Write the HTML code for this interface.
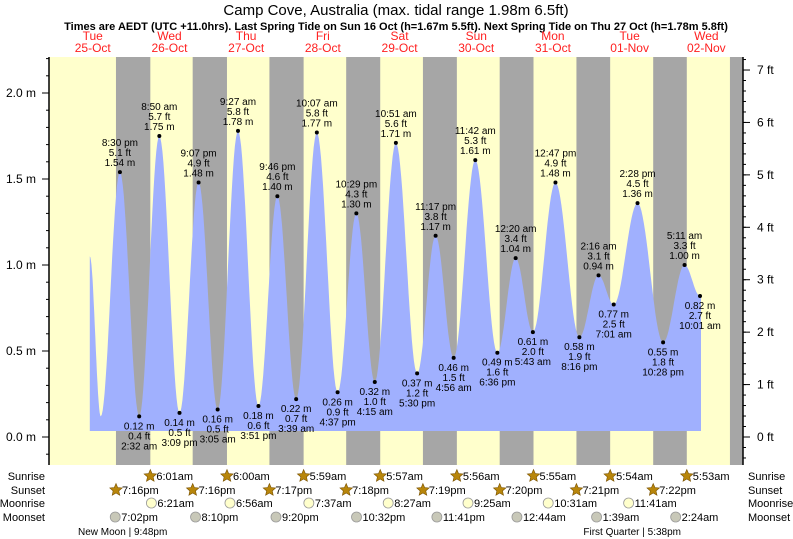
<!DOCTYPE html>
<html><head><meta charset="utf-8"><style>
body{margin:0;background:#fff;}
svg{display:block;font-family:"Liberation Sans",sans-serif;}
</style></head><body>
<svg id="c" width="793" height="539" viewBox="0 0 793 539">
<text x="396" y="15" text-anchor="middle" font-size="15" fill="#000">Camp Cove, Australia (max. tidal range 1.98m 6.5ft)</text>
<text x="396" y="30" text-anchor="middle" font-size="11" font-weight="bold" fill="#000">Times are AEDT (UTC +11.0hrs). Last Spring Tide on Sun 16 Oct (h=1.67m 5.5ft). Next Spring Tide on Thu 27 Oct (h=1.78m 5.8ft)</text>
<g id="bands"></g><g id="tide"></g><g id="axes"></g><g id="labels"></g><g id="bottom"></g>
</svg>
<script>
const dayNames=["Tue","Wed","Thu","Fri","Sat","Sun","Mon","Tue","Wed"];
const dayDates=["25-Oct","26-Oct","27-Oct","28-Oct","29-Oct","30-Oct","31-Oct","01-Nov","02-Nov"];
const tideDay=[0,1,1,1,1,2,2,2,2,3,3,3,3,4,4,4,4,5,5,5,6,6,6,6,7,7,7,7,8,8];
const tideTime=["8:30 pm","2:32 am","8:50 am","3:09 pm","9:07 pm","3:05 am","9:27 am","3:51 pm","9:46 pm","3:39 am","10:07 am","4:37 pm","10:29 pm","4:15 am","10:51 am","5:30 pm","11:17 pm","4:56 am","11:42 am","6:36 pm","12:20 am","5:43 am","12:47 pm","8:16 pm","2:16 am","7:01 am","2:28 pm","10:28 pm","5:11 am","10:01 am"];
const tideM=[1.54,0.12,1.75,0.14,1.48,0.16,1.78,0.18,1.40,0.22,1.77,0.26,1.30,0.32,1.71,0.37,1.17,0.46,1.61,0.49,1.04,0.61,1.48,0.58,0.94,0.77,1.36,0.55,1.00,0.82];
const tideFt=["5.1","0.4","5.7","0.5","4.9","0.5","5.8","0.6","4.6","0.7","5.8","0.9","4.3","1.0","5.6","1.2","3.8","1.5","5.3","1.6","3.4","2.0","4.9","1.9","3.1","2.5","4.5","1.8","3.3","2.7"];
const preTimes=["11:05 am","2:30 pm"];
const preM=[1.05,0.12];
const sunrise=["6:01am","6:00am","5:59am","5:57am","5:56am","5:55am","5:54am","5:53am"];
const sunset=["7:16pm","7:16pm","7:17pm","7:18pm","7:19pm","7:20pm","7:21pm","7:22pm","7:23pm"];
const moonrise=["6:21am","6:56am","7:37am","8:27am","9:25am","10:31am","11:41am"];
const moonset=["7:02pm","8:10pm","9:20pm","10:32pm","11:41pm","12:44am","1:39am","2:24am"];
const moonsetDay=[0,1,2,3,4,6,7,8];
const mTicks=[0,0.5,1.0,1.5,2.0];
const ftTicks=[0,1,2,3,4,5,6,7];

const NS="http://www.w3.org/2000/svg";
function el(tag,attrs,parent,txt){const e=document.createElementNS(NS,tag);for(const k in attrs)e.setAttribute(k,attrs[k]);if(txt!==undefined)e.textContent=txt;parent.appendChild(e);return e;}
function hrs(s){const m=s.replace(/\s/g,'').match(/(\d+):(\d+)(am|pm)/);let h=+m[1]%12;if(m[3]=='pm')h+=12;return h+(+m[2])/60;}
const X0=49,X1=743,Y0=57,Y1=465;
function x(day,h){return 131.1+(day-1+h/24)*76.7;}
function y(m){return 437-m*172;}
function yft(f){return 437-f*0.3048*172;}

const bands=document.getElementById('bands');
let r=el('rect',{x:X0,y:Y0,width:X1-X0,height:Y1-Y0,fill:'#ffffcc'},bands);

for(let d=0;d<sunset.length;d++){
  const xs=x(d,hrs(sunset[d]));const xe=d<sunrise.length?x(d+1,hrs(sunrise[d])):X1;
  const b=el('rect',{x:xs,y:Y0,width:Math.min(xe,X1)-xs,height:Y1-Y0,fill:'#a6a6a6'},bands);
  
}
const labels=document.getElementById('labels');
for(let d=0;d<dayNames.length;d++){
  const cx=x(d,12);
  const t1=el('text',{x:cx,y:40,'text-anchor':'middle','font-size':12,fill:'#ff2020'},labels,dayNames[d]);
  
  const t2=el('text',{x:cx,y:52,'text-anchor':'middle','font-size':12,fill:'#ff2020'},labels,dayDates[d]);
  
}
const pts=[];
for(let i=0;i<preTimes.length;i++)pts.push([x(0,hrs(preTimes[i])),preM[i]]);
for(let i=0;i<tideTime.length;i++)pts.push([x(tideDay[i],hrs(tideTime[i])),tideM[i]]);
let poly=[];
for(let i=0;i<pts.length-1;i++){
  const [xa,ha]=pts[i],[xb,hb]=pts[i+1];
  for(let s=0;s<20;s++){const f=s/20;const v=ha+(hb-ha)*(1-Math.cos(Math.PI*f))/2;poly.push([xa+(xb-xa)*f,y(v)]);}
}
poly.push([pts[pts.length-1][0],y(pts[pts.length-1][1])]);
const base=y(0.035);
let dstr='M'+poly[0][0].toFixed(1)+','+base+' '+poly.map(p=>'L'+p[0].toFixed(1)+','+p[1].toFixed(1)).join(' ')+' L'+(poly[poly.length-1][0]+1).toFixed(1)+','+poly[poly.length-1][1].toFixed(1)+' L'+(poly[poly.length-1][0]+1).toFixed(1)+','+base+'Z';
const tide=document.getElementById('tide');
const pth=el('path',{d:dstr,fill:'#a0b0fe'},tide);

for(let i=0;i<tideTime.length;i++){
  const px=x(tideDay[i],hrs(tideTime[i])),py=y(tideM[i]);
  const dot=el('circle',{cx:px,cy:py,r:2,fill:'#000'},labels);
  
  const high=(i%2==0);
  const lines=high?[tideTime[i],tideFt[i]+' ft',tideM[i].toFixed(2)+' m']:[tideM[i].toFixed(2)+' m',tideFt[i]+' ft',tideTime[i]];
  const g=el('g',{'font-size':10,fill:'#000','text-anchor':'middle'},labels);
  
  lines.forEach((t,k)=>{const yy=high?py-26+k*10:py+13+k*10;el('text',{x:px,y:yy},g,t);});
}
const axes=document.getElementById('axes');
let a=el('line',{x1:X0,y1:Y0,x2:X0,y2:Y1,stroke:'#000','stroke-width':1.5},axes);

a=el('line',{x1:X1,y1:Y0,x2:X1,y2:Y1,stroke:'#000','stroke-width':1.5},axes);

for(let v=-0.1;v<=2.21;v+=0.1){const yy=y(v);if(yy<Y0||yy>Y1)continue;el('line',{x1:X0-3,y1:yy,x2:X0,y2:yy,stroke:'#000'},axes);}
mTicks.forEach(v=>{const yy=y(v);el('line',{x1:X0-7,y1:yy,x2:X0,y2:yy,stroke:'#000'},axes);
  const t=el('text',{x:36,y:yy+4,'text-anchor':'end','font-size':12},axes,v.toFixed(1)+' m');
  });
for(let v=-0.4;v<=7.3;v+=0.2){const yy=yft(v);if(yy<Y0||yy>Y1)continue;el('line',{x1:X1,y1:yy,x2:X1+3,y2:yy,stroke:'#000'},axes);}
ftTicks.forEach(v=>{const yy=yft(v);el('line',{x1:X1,y1:yy,x2:X1+7,y2:yy,stroke:'#000'},axes);
  const t=el('text',{x:757,y:yy+4,'font-size':12},axes,v+' ft');
  });
const bot=document.getElementById('bottom');
const rows=[["Sunrise",480],["Sunset",494],["Moonrise",507],["Moonset",521]];
rows.forEach(([n,yy])=>{
  let t=el('text',{x:45,y:yy,'text-anchor':'end','font-size':11},bot,n);
  
  t=el('text',{x:748,y:yy,'font-size':11},bot,n);
  
});
function star(cx,cy){let p=[];for(let k=0;k<10;k++){const rr=k%2?3:6.5;const ang=-Math.PI/2+k*Math.PI/5;p.push((cx+rr*Math.cos(ang)).toFixed(1)+','+(cy+rr*Math.sin(ang)).toFixed(1));}return p.join(' ');}
function evt(px,yy,kind,txt,name){
  let ic;
  if(kind=='star'){ic=el('polygon',{points:star(px,yy-4),fill:'#b8860b',stroke:'#7a5200','stroke-width':0.6},bot);}
  else ic=el('circle',{cx:px,cy:yy-4,r:5,fill:kind=='mr'?'#ffffcc':'#c8c8b8',stroke:'#999','stroke-width':0.8},bot);
  
  const t=el('text',{x:px+6,y:yy,'font-size':11},bot,txt);
  
}
sunrise.forEach((s,i)=>evt(x(i+1,hrs(s)),480,'star',s,'sunrise'));
sunset.slice(0,8).forEach((s,i)=>evt(x(i,hrs(s)),494,'star',s,'sunset'));
moonrise.forEach((s,i)=>evt(x(i+1,hrs(s)),507,'mr',s,'moonrise'));
moonset.forEach((s,i)=>evt(x(moonsetDay[i],hrs(s)),521,'ms',s,'moonset'));
let t=el('text',{x:78,y:535,'font-size':10},bot,'New Moon | 9:48pm');

t=el('text',{x:681,y:535,'text-anchor':'end','font-size':10},bot,'First Quarter | 5:38pm');

</script>
</body></html>
